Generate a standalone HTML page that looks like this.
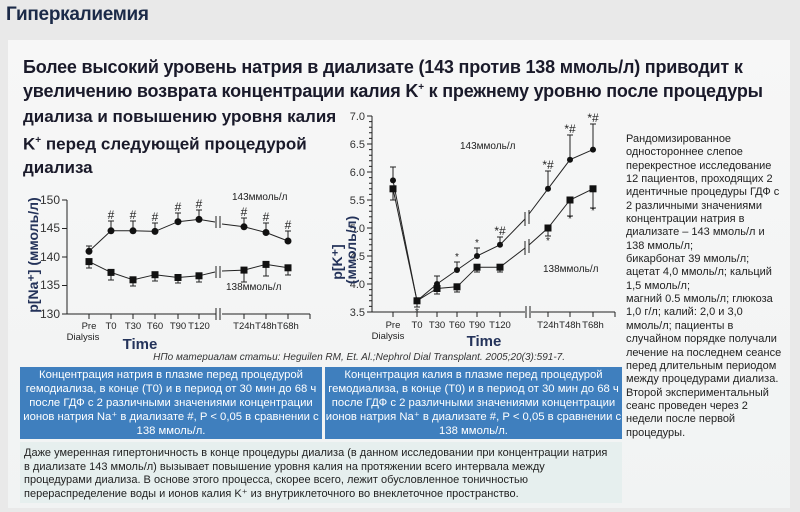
<!DOCTYPE html>
<html><head><meta charset="utf-8"><style>
body{margin:0;width:800px;height:512px;overflow:hidden;background:#e9e9e9;font-family:"Liberation Sans",sans-serif;position:relative}
.a{position:absolute}
#panel{left:8px;top:40px;width:782px;height:468px;background:linear-gradient(180deg,#f7f7f7,#f1f3f3)}
h1{position:absolute;left:6px;top:4px;margin:0;font-size:19px;color:#1b2a48;font-weight:bold;letter-spacing:-0.3px}
.hd{font-weight:bold;color:#1a1a2a;white-space:nowrap}
.bb{background:#3f7fbe;color:#fff;font-size:11.3px;line-height:14px;text-align:center;padding-top:1px}
.rt{font-size:11px;line-height:13.35px;color:#222;white-space:nowrap}
</style></head><body>
<h1>Гиперкалиемия</h1>
<div class="a" id="panel"></div>
<div class="a hd" style="left:23px;top:57px;font-size:18px;letter-spacing:-0.2px">Более высокий уровень натрия в диализате (143 против 138 ммоль/л) приводит к</div>
<div class="a hd" style="left:23px;top:81px;font-size:18px;letter-spacing:-0.2px">увеличению возврата концентрации калия K<sup style="font-size:10px">+</sup> к прежнему уровню после процедуры</div>
<div class="a hd" style="left:23px;top:105px;font-size:17px;line-height:23.5px">диализа и повышению уровня калия<br>K<sup style="font-size:10px">+</sup> перед следующей процедурой<br>диализа</div>
<svg class="a" style="left:0;top:0" width="800" height="512" font-family="Liberation Sans,sans-serif">
<g stroke="#222" fill="none" stroke-width="1">
<path d="M67 200V314M62 200h5M62 228.5h5M62 257h5M62 285.5h5M62 314h5M67 314H216M222 314H310"/>
<path d="M89 314v5M111 314v5M133 314v5M155 314v5M178 314v5M199 314v5M244 314v5M266 314v5M288 314v5M310 314v5"/>
<path d="M216 308v12M220 308v12"/>
<path d="M89 251.3L111 230.8L133 230.8L155 231.4L178 221.7L199 219.4L215 222M222 224L244 226.8L266 232.5L288 241"/>
<path d="M89 261.6L111 272.4L133 279.8L155 274.7L178 277.5L199 275.8L215 272M222 271L244 270.1L266 264.4L288 267.8"/>
<path d="M89 251V246M111 231V221M133 231V221M155 231V223M178 222V213M199 219V210M244 227V218M266 232V223M288 241V231"/>
<path d="M89 262V268M111 272V280M133 280V286M155 275V281M178 277V283M199 276V282M244 270V282M266 264V276M288 268V275"/>
<path d="M86 246h6M108 221h6M130 221h6M152 223h6M175 213h6M196 210h6M241 218h6M263 223h6M285 231h6M86 268h6M108 280h6M130 286h6M152 281h6M175 283h6M196 282h6M241 282h6M263 276h6M285 275h6"/>
<path d="M216 216v12M220 216v12M216 266v12M220 266v12"/>
<path d="M372 116V312M367 116h5M367 144h5M367 172h5M367 200h5M367 228h5M367 256h5M367 284h5M367 312h5M372 312H525M531 312H615"/>
<path d="M369 121.6h3M369 127.2h3M369 132.8h3M369 138.4h3M369 149.6h3M369 155.2h3M369 160.8h3M369 166.4h3M369 177.6h3M369 183.2h3M369 188.8h3M369 194.4h3M369 205.6h3M369 211.2h3M369 216.8h3M369 222.4h3M369 233.6h3M369 239.2h3M369 244.8h3M369 250.4h3M369 261.6h3M369 267.2h3M369 272.8h3M369 278.4h3M369 289.6h3M369 295.2h3M369 300.8h3M369 306.4h3"/>
<path d="M393 312v5M417 312v5M437 312v5M457 312v5M477 312v5M500 312v5M548 312v5M570 312v5M593 312v5M615 312v5"/>
<path d="M526 306v12M530 306v12"/>
<path d="M393 180.4L417 300.8L437 284L457 270L477 256L500 244.8L525 219M529 214L548 188.8L570 159.7L593 149.6"/>
<path d="M393 188.8L417 300.8L437 288.5L457 286.8L477 267.2L500 267.2L525 248M529 245L548 228L570 200L593 188.8"/>
<path d="M393 180V167M437 284V276M457 270V262M477 256V248M500 245V237M548 189V171M570 160V135M593 150V124"/>
<path d="M393 189V200M417 301V307M437 288V294M457 287V292M477 267V272M500 267V272M548 228V236M570 200V216M593 189V208"/>
<path d="M390 167h6M434 276h6M454 262h6M474 248h6M497 237h6M545 171h6M567 135h6M590 124h6M390 200h6M414 307h6M434 294h6M454 292h6M474 272h6M497 272h6M545 236h6M567 216h6M590 208h6"/>
<path d="M525 212v14M529 210v14M525 241v14M529 239v14"/>
</g>
<g fill="#111">
<circle cx="89" cy="251.3" r="3.5"/><circle cx="111" cy="230.8" r="3.5"/><circle cx="133" cy="230.8" r="3.5"/><circle cx="155" cy="231.4" r="3.5"/><circle cx="178" cy="221.7" r="3.5"/><circle cx="199" cy="219.4" r="3.5"/><circle cx="244" cy="226.8" r="3.5"/><circle cx="266" cy="232.5" r="3.5"/><circle cx="288" cy="241" r="3.5"/>
<rect x="85.5" y="258.1" width="7" height="7"/><rect x="107.5" y="268.9" width="7" height="7"/><rect x="129.5" y="276.3" width="7" height="7"/><rect x="151.5" y="271.2" width="7" height="7"/><rect x="174.5" y="274" width="7" height="7"/><rect x="195.5" y="272.3" width="7" height="7"/><rect x="240.5" y="266.6" width="7" height="7"/><rect x="262.5" y="260.9" width="7" height="7"/><rect x="284.5" y="264.3" width="7" height="7"/>
<circle cx="393" cy="180.4" r="3"/><circle cx="417" cy="300.8" r="3"/><circle cx="437" cy="284" r="3"/><circle cx="457" cy="270" r="3"/><circle cx="477" cy="256" r="3"/><circle cx="500" cy="244.8" r="3"/><circle cx="548" cy="188.8" r="3"/><circle cx="570" cy="159.7" r="3"/><circle cx="593" cy="149.6" r="3"/>
<rect x="389.5" y="185.3" width="7" height="7"/><rect x="413.5" y="297.3" width="7" height="7"/><rect x="433.5" y="285" width="7" height="7"/><rect x="453.5" y="283.3" width="7" height="7"/><rect x="473.5" y="263.7" width="7" height="7"/><rect x="496.5" y="263.7" width="7" height="7"/><rect x="544.5" y="224.5" width="7" height="7"/><rect x="566.5" y="196.5" width="7" height="7"/><rect x="589.5" y="185.3" width="7" height="7"/>
</g>
<g font-size="12" fill="#333" text-anchor="end">
<text x="60" y="204">150</text><text x="60" y="232">145</text><text x="60" y="261">140</text><text x="60" y="289">135</text><text x="60" y="318">130</text>
</g>
<g font-size="11" fill="#333" text-anchor="end">
<text x="365" y="120">7.0</text><text x="365" y="148">6.5</text><text x="365" y="176">6.0</text><text x="365" y="204">5.5</text><text x="365" y="232">5.0</text><text x="365" y="260">4.5</text><text x="365" y="288">4.0</text><text x="365" y="316">3.5</text>
</g>
<g font-size="9.5" fill="#222" text-anchor="middle">
<text x="89" y="329">Pre</text><text x="83" y="340">Dialysis</text><text x="111" y="329">T0</text><text x="133" y="329">T30</text><text x="155" y="329">T60</text><text x="178" y="329">T90</text><text x="199" y="329">T120</text><text x="244" y="329">T24h</text><text x="266" y="329">T48h</text><text x="288" y="329">T68h</text>
<text x="393" y="328">Pre</text><text x="388" y="339">Dialysis</text><text x="417" y="328">T0</text><text x="437" y="328">T30</text><text x="457" y="328">T60</text><text x="477" y="328">T90</text><text x="500" y="328">T120</text><text x="548" y="328">T24h</text><text x="570" y="328">T48h</text><text x="593" y="328">T68h</text>
</g>
<g font-size="12" fill="#222" text-anchor="middle">
<text x="111" y="219">#</text><text x="133" y="219">#</text><text x="155" y="221">#</text><text x="178" y="211">#</text><text x="199" y="208">#</text><text x="244" y="216">#</text><text x="266" y="221">#</text><text x="288" y="229">#</text>
<text x="457" y="260" font-size="10">*</text><text x="477" y="246" font-size="10">*</text><text x="500" y="235">*#</text><text x="548" y="169">*#</text><text x="570" y="133">*#</text><text x="593" y="122">*#</text>
<text x="417" y="315" font-size="10">*</text><text x="548" y="244" font-size="10">*</text><text x="570" y="222" font-size="10">*</text><text x="593" y="214" font-size="10">*</text>
</g>
<g font-size="10" fill="#222">
<text x="232" y="200">143ммоль/л</text><text x="226" y="290">138ммоль/л</text>
<text x="460" y="149">143ммоль/л</text><text x="543" y="272">138ммоль/л</text>
</g>
<g font-weight="bold" fill="#24335a">
<text x="140" y="349" font-size="15" text-anchor="middle">Time</text>
<text x="484" y="346" font-size="15" text-anchor="middle">Time</text>
<text transform="translate(38,255) rotate(-90)" font-size="14" text-anchor="middle">p[Na⁺] (ммоль/л)</text>
<text transform="translate(342,262) rotate(-90)" font-size="14" text-anchor="middle">p[K⁺]</text>
<text transform="translate(356,250) rotate(-90)" font-size="14" text-anchor="middle">(ммоль/л)</text>
</g>
<text x="565" y="360" font-size="10" font-style="italic" fill="#333" text-anchor="end">НПо материалам статьи: Heguilen RM, Et. Al.;Nephrol Dial Transplant. 2005;20(3):591-7.</text>
</svg>
<div class="a bb" style="left:20px;top:367px;width:302px;height:71px">Концентрация натрия в плазме перед процедурой гемодиализа, в конце (T0) и в период от 30 мин до 68 ч после ГДФ с 2 различными значениями концентрации ионов натрия Na⁺ в диализате #, P &lt; 0,05 в сравнении с 138 ммоль/л.</div>
<div class="a bb" style="left:325px;top:367px;width:297px;height:71px">Концентрация калия в плазме перед процедурой гемодиализа, в конце (T0) и в период от 30 мин до 68 ч после ГДФ с 2 различными значениями концентрации ионов натрия Na⁺ в диализате #, P &lt; 0,05 в сравнении с 138 ммоль/л.</div>
<div class="a" style="left:20px;top:442px;width:594px;height:56px;background:#e6efee;padding:5px 4px 0 4px;font-size:11px;line-height:13.5px;color:#222;white-space:nowrap">Даже умеренная гипертоничность в конце процедуры диализа (в данном исследовании при концентрации натрия<br>в диализате 143 ммоль/л) вызывает повышение уровня калия на протяжении всего интервала между<br>процедурами диализа. В основе этого процесса, скорее всего, лежит обусловленное тоничностью<br>перераспределение воды и ионов калия K⁺ из внутриклеточного во внеклеточное пространство.</div>
<div class="a rt" style="left:626px;top:133px">Рандомизированное<br>одностороннее слепое<br>перекрестное исследование<br>12 пациентов, проходящих 2<br>идентичные процедуры ГДФ с<br>2 различными значениями<br>концентрации натрия в<br>диализате – 143 ммоль/л и<br>138 ммоль/л;<br>бикарбонат 39 ммоль/л;<br>ацетат 4,0 ммоль/л; кальций<br>1,5 ммоль/л;<br>магний 0.5 ммоль/л; глюкоза<br>1,0 г/л; калий: 2,0 и 3,0<br>ммоль/л; пациенты в<br>случайном порядке получали<br>лечение на последнем сеансе<br>перед длительным периодом<br>между процедурами диализа.<br>Второй экспериментальный<br>сеанс проведен через 2<br>недели после первой<br>процедуры.</div>
</body></html>
